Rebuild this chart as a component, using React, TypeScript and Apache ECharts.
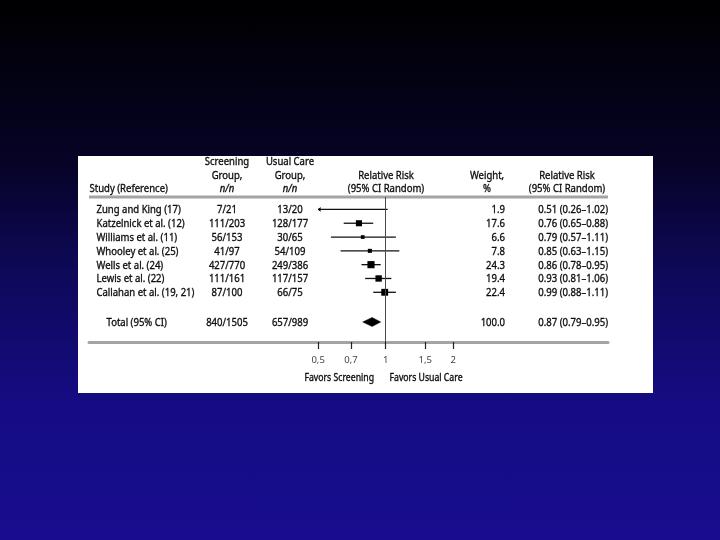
import React, { useEffect, useRef } from 'react';
import * as echarts from 'echarts';

// ---------- data ----------
const studies = [
  'Zung and King (17)',
  'Katzelnick et al. (12)',
  'Williams et al. (11)',
  'Whooley et al. (25)',
  'Wells et al. (24)',
  'Lewis et al. (22)',
  'Callahan et al. (19, 21)',
];
const screeningCounts = ['7/21', '111/203', '56/153', '41/97', '427/770', '111/161', '87/100'];
const usualCareCounts = ['13/20', '128/177', '30/65', '54/109', '249/386', '117/157', '66/75'];
const weights = [1.9, 17.6, 6.6, 7.8, 24.3, 19.4, 22.4];
const relativeRisk = [0.51, 0.76, 0.79, 0.85, 0.86, 0.93, 0.99];
const ciLower = [0.26, 0.65, 0.57, 0.63, 0.78, 0.81, 0.88];
const ciUpper = [1.02, 0.88, 1.11, 1.15, 0.95, 1.06, 1.11];

const totalLabel = 'Total (95% CI)';
const totalScreening = '840/1505';
const totalUsualCare = '657/989';
const totalWeight = 100.0;
const totalRR = 0.87;
const totalLower = 0.79;
const totalUpper = 0.95;

const tickValues = [0.5, 0.7, 1, 1.5, 2];
const favorsLeft = 'Favors Screening';
const favorsRight = 'Favors Usual Care';

// ---------- style / layout ----------
const FONT = '"Noto Sans", "Open Sans", sans-serif';
const FONT_SIZE = 11.5;
const CONDENSE = 0.83; // horizontal squeeze to mimic the condensed face of the original
const INK = '#0d0d0d';
const GREY_RULE = '#a4a4a4';
const DISPLAY_MIN = 0.5; // CI lines are truncated (arrow) below this value

const GRID_LEFT = 89;
const GRID_RIGHT_X = 608;
const GRID_TOP = 197;
const GRID_BOTTOM_Y = 342;
const X_UNIT = 97.5; // px per ln unit
const X_ONE = 385.7;
const X_MIN = Math.exp((GRID_LEFT - X_ONE) / X_UNIT);
const X_MAX = Math.exp((GRID_RIGHT_X - X_ONE) / X_UNIT);

const rowPos = (i: number) => i + 0.9;
const TOTAL_POS = 9.05;

const COL_STUDY = 96.5;
const COL_TOTAL = 106.5;
const COL_SCREEN = 227;
const COL_USUAL = 290;
const COL_WEIGHT = 505;
const COL_RR = 608;

const fmtRR = (rr: number, lo: number, hi: number) =>
  `${rr.toFixed(2)} (${lo.toFixed(2)}\u2013${hi.toFixed(2)})`;

function textEl(
  text: string,
  x: number,
  y: number,
  align: string,
  opts: { italic?: boolean; size?: number; z?: number } = {}
) {
  return {
    type: 'text',
    z: opts.z ?? 5,
    x,
    y,
    scaleX: CONDENSE,
    style: {
      text,
      x: 0,
      y: 0,
      align,
      textAlign: align,
      verticalAlign: 'middle',
      textVerticalAlign: 'middle',
      fontSize: opts.size ?? FONT_SIZE,
      fontFamily: FONT,
      fontStyle: opts.italic ? 'italic' : 'normal',
      fill: INK,
      stroke: INK,
      lineWidth: 0.35,
    },
  };
}

export default function App() {
  const ref = useRef<HTMLDivElement>(null);

  useEffect(() => {
    if (!ref.current) return;
    const chart = echarts.init(ref.current, undefined, { renderer: 'svg' });

    const forestData = studies.map((_, i) => [
      ciLower[i],
      ciUpper[i],
      relativeRisk[i],
      rowPos(i),
      weights[i],
      0,
    ]);
    forestData.push([totalLower, totalUpper, totalRR, TOTAL_POS, totalWeight, 1]);

    const tableData = studies.map((_, i) => [1, rowPos(i)]);
    tableData.push([1, TOTAL_POS]);

    const option: any = {
      animation: false,
      graphic: {
        elements: [
          {
            type: 'rect',
            z: -20,
            shape: { x: 0, y: 0, width: 720, height: 540 },
            style: {
              fill: {
                type: 'linear',
                x: 0,
                y: 0,
                x2: 0,
                y2: 1,
                colorStops: [
                  { offset: 0, color: '#000000' },
                  { offset: 0.3, color: '#060326' },
                  { offset: 0.5, color: '#0e0958' },
                  { offset: 0.75, color: '#150c84' },
                  { offset: 1, color: '#170d8e' },
                ],
              },
            },
          },
          {
            type: 'rect',
            z: -10,
            shape: { x: 78, y: 156, width: 575, height: 237 },
            style: { fill: '#ffffff' },
          },
          {
            type: 'line',
            z: 1,
            shape: { x1: GRID_LEFT, y1: GRID_TOP, x2: GRID_RIGHT_X, y2: GRID_TOP },
            style: { stroke: GREY_RULE, lineWidth: 3 },
          },
          textEl('Study (Reference)', 89.5, 187.5, 'left'),
          textEl('Screening', COL_SCREEN, 161, 'center'),
          textEl('Group,', COL_SCREEN, 175, 'center'),
          textEl('n/n', COL_SCREEN, 187.5, 'center', { italic: true }),
          textEl('Usual Care', COL_USUAL, 161, 'center'),
          textEl('Group,', COL_USUAL, 175, 'center'),
          textEl('n/n', COL_USUAL, 187.5, 'center', { italic: true }),
          textEl('Relative Risk', 386, 175, 'center'),
          textEl('(95% CI Random)', 386, 187.5, 'center'),
          textEl('Weight,', 487, 175, 'center'),
          textEl('%', 487, 187.5, 'center'),
          textEl('Relative Risk', 567, 175, 'center'),
          textEl('(95% CI Random)', 567, 187.5, 'center'),
          textEl(favorsLeft, 374, 377.5, 'right', { size: 10.5 }),
          textEl(favorsRight, 389.5, 377.5, 'left', { size: 10.5 }),
        ],
      },
      grid: {
        left: GRID_LEFT,
        right: 720 - GRID_RIGHT_X,
        top: GRID_TOP,
        bottom: 540 - GRID_BOTTOM_Y,
        containLabel: false,
      },
      xAxis: {
        type: 'log',
        position: 'bottom',
        min: X_MIN,
        max: X_MAX,
        axisLine: { show: true, onZero: false, lineStyle: { color: GREY_RULE, width: 3 } },
        axisTick: {
          show: true,
          customValues: tickValues,
          length: 7,
          lineStyle: { color: '#222', width: 1.2 },
        },
        axisLabel: {
          show: true,
          customValues: tickValues,
          margin: 12,
          fontSize: 9.5,
          fontFamily: FONT,
          color: '#444',
          formatter: (v: number) => String(Number(v.toFixed(2))).replace('.', ','),
        },
        splitLine: { show: false },
        minorTick: { show: false },
      },
      yAxis: {
        type: 'value',
        inverse: true,
        min: 0,
        max: 10.5,
        show: false,
      },
      series: [
        {
          type: 'custom',
          name: 'forest',
          coordinateSystem: 'cartesian2d',
          encode: { x: [0, 1, 2], y: 3 },
          data: forestData,
          z: 3,
          renderItem: (params: any, api: any) => {
            const lo = api.value(0);
            const hi = api.value(1);
            const est = api.value(2);
            const pos = api.value(3);
            const w = api.value(4);
            const kind = api.value(5);
            const truncated = lo < DISPLAY_MIN;
            const pLo = api.coord([truncated ? DISPLAY_MIN : lo, pos]);
            const pHi = api.coord([hi, pos]);
            const pEst = api.coord([est, pos]);
            const y = pEst[1];
            if (kind === 1) {
              return {
                type: 'polygon',
                shape: {
                  points: [
                    [pLo[0], y],
                    [pEst[0], y - 4.5],
                    [pHi[0], y],
                    [pEst[0], y + 4.5],
                  ],
                },
                style: { fill: '#000', stroke: '#000', lineWidth: 0.5 },
              };
            }
            const s = 1.45 * Math.sqrt(w);
            const children: any[] = [
              {
                type: 'line',
                shape: { x1: pLo[0], y1: y, x2: pHi[0], y2: y },
                style: { stroke: '#111', lineWidth: 1.3 },
              },
              {
                type: 'rect',
                shape: { x: pEst[0] - s / 2, y: y - s / 2, width: s, height: s },
                style: { fill: '#000' },
              },
            ];
            if (truncated) {
              children.push({
                type: 'polyline',
                shape: {
                  points: [
                    [pLo[0] + 2.5, y - 1.8],
                    [pLo[0], y],
                    [pLo[0] + 2.5, y + 1.8],
                  ],
                },
                style: { stroke: '#111', lineWidth: 1, fill: 'none' },
              });
            }
            return { type: 'group', children };
          },
          markLine: {
            silent: true,
            symbol: 'none',
            label: { show: false },
            lineStyle: { color: '#4a4a4a', width: 1, type: 'solid' },
            data: [{ xAxis: 1 }],
          },
        },
        {
          type: 'custom',
          name: 'table',
          coordinateSystem: 'cartesian2d',
          encode: { x: 0, y: 1 },
          data: tableData,
          z: 4,
          renderItem: (params: any, api: any) => {
            const i = params.dataIndex;
            const y = api.coord([1, api.value(1)])[1] - 0.5;
            const isTotal = i === studies.length;
            const cells = isTotal
              ? [
                  textEl(totalLabel, COL_TOTAL, y, 'left'),
                  textEl(totalScreening, COL_SCREEN, y, 'center'),
                  textEl(totalUsualCare, COL_USUAL, y, 'center'),
                  textEl(totalWeight.toFixed(1), COL_WEIGHT, y, 'right'),
                  textEl(fmtRR(totalRR, totalLower, totalUpper), COL_RR, y, 'right'),
                ]
              : [
                  textEl(studies[i], COL_STUDY, y, 'left'),
                  textEl(screeningCounts[i], COL_SCREEN, y, 'center'),
                  textEl(usualCareCounts[i], COL_USUAL, y, 'center'),
                  textEl(weights[i].toFixed(1), COL_WEIGHT, y, 'right'),
                  textEl(fmtRR(relativeRisk[i], ciLower[i], ciUpper[i]), COL_RR, y, 'right'),
                ];
            return { type: 'group', children: cells };
          },
        },
      ],
    };

    chart.setOption(option);
    return () => chart.dispose();
  }, []);

  return (
    <div
      ref={ref}
      style={{ position: 'fixed', left: 0, top: 0, width: 720, height: 540 }}
    />
  );
}
